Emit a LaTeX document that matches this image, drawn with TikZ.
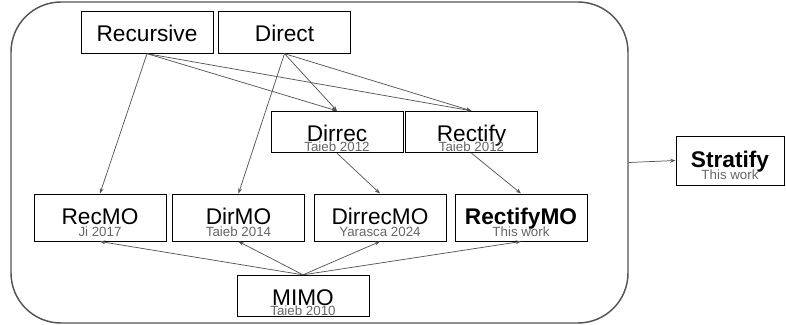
\documentclass[tikz,border=0pt]{standalone}
\usepackage{fontspec}
\setmainfont{Liberation Sans}
\usetikzlibrary{arrows.meta}
\definecolor{linegray}{HTML}{555555}
\definecolor{refgray}{HTML}{666666}

\begin{document}
\begin{tikzpicture}[x=0.75pt, y=-0.75pt,
    box/.style = {draw=black, line width=0.75pt, minimum width=#1,
                minimum height=31pt, text height=14pt, text depth=0pt,
                font=\fontsize{17}{20}\selectfont},
    box/.default = 99pt,  % 132px wide
    mo/.style = {box=#1, minimum height=35.25pt, text depth=4pt},
    mo/.default = 99pt,
    ref/.style = {anchor=base, inner sep=0pt, text=refgray,
                font=\fontsize{10}{12}\selectfont},
    arr/.style = {draw=linegray, line width=0.55pt,
                -{Stealth[length=4pt, width=3pt]}}
                    ]
        \useasboundingbox (0,0) rectangle (786,325);
        % the family of strategies
        \node[draw=linegray, line width=1.1pt, rounded corners=37.5pt,
              minimum width=462.75pt, minimum height=240.75pt] (family) at (319.5,162.5) {};
        \node[box] (recursive) at (147,32.5) {Recursive};
        \node[box] (direct) at (284.5,32.5) {Direct};
        \node[box] (dirrec) at (337,132) {Dirrec};
        \node[box] (rectify) at (471.5,132) {Rectify};
        \node[mo] (recmo) at (100,217.5) {RecMO};
        \node[mo] (dirmo) at (238.5,217.5) {DirMO};
        \node[mo] (dirrecmo) at (380,217.5) {DirrecMO};
        \node[mo] (rectifymo) at (521,217.5) {\bfseries RectifyMO};
        \node[box] (mimo) at (303,296) {MIMO};
        \node[mo=81pt, minimum height=36.75pt] (stratify) at (730,160.5) {\bfseries Stratify};
        % references, under the names
        \foreach \n/\t/\s in {dirrec/Taieb 2012/7.8, rectify/Taieb 2012/7.8,
                              recmo/Ji 2017/9.2, dirmo/Taieb 2014/9.2,
                              dirrecmo/Yarasca 2024/9.2, rectifymo/This work/9.2,
                              mimo/Taieb 2010/7.8, stratify/This work/9.6}
            \node[ref] (\n-ref) at ([yshift=-\s pt]\n.base) {\t};
        % links
        \draw[arr] (recursive.south) -- (recmo.north);
        \draw[arr] (recursive.south) -- (dirrec.north);
        \draw[arr] (recursive.south) -- (rectify.north);
        \draw[arr] (direct.south) -- (dirmo.north);
        \draw[arr] (direct.south) -- (dirrec.north);
        \draw[arr] (direct.south) -- (rectify.north);
        \draw[arr] (dirrec.south) -- (dirrecmo.north);
        \draw[arr] (rectify.south) -- (rectifymo.north);
        \foreach \m in {recmo, dirmo, dirrecmo, rectifymo}
            \draw[arr] (mimo.north) -- (\m.south);
        \draw[arr] (family.east) -- (stratify.west);
    \end{tikzpicture}
\end{document}
